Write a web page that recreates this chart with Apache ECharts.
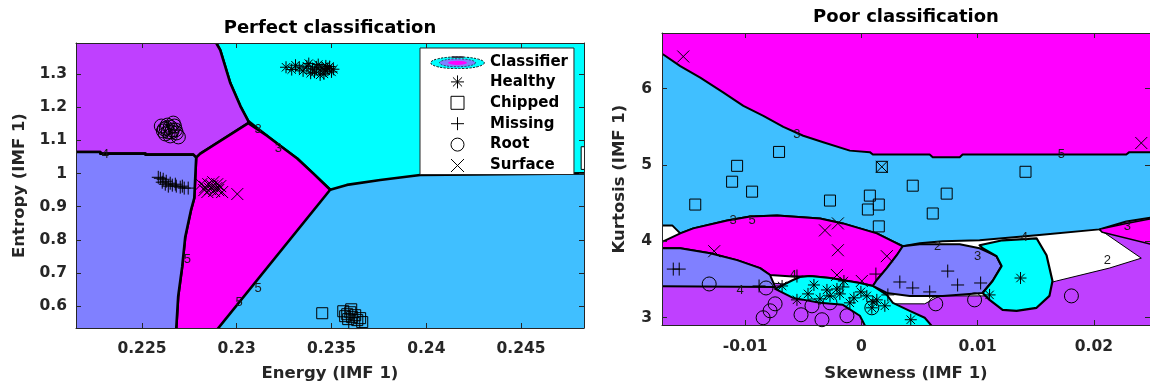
<!DOCTYPE html>
<html><head><meta charset="utf-8">
<script src="https://cdn.jsdelivr.net/npm/echarts@6/dist/echarts.min.js"></script>
<style>html,body{margin:0;padding:0;background:#fff}#c{width:1150px;height:387px}</style>
</head><body><div id="c"></div>
<script>
// ================= DATA =================
const leftXTicks = [0.225, 0.23, 0.235, 0.24, 0.245];
const leftXTickLabels = ['0.225', '0.23', '0.235', '0.24', '0.245'];
const leftYTicks = [0.6, 0.7, 0.8, 0.9, 1, 1.1, 1.2, 1.3];
const leftYTickLabels = ['0.6', '0.7', '0.8', '0.9', '1', '1.1', '1.2', '1.3'];
const rightXTicks = [-0.01, 0, 0.01, 0.02];
const rightXTickLabels = ['-0.01', '0', '0.01', '0.02'];
const rightYTicks = [3, 4, 5, 6];
const rightYTickLabels = ['3', '4', '5', '6'];
const legendNames = ['Classifier', 'Healthy', 'Chipped', 'Missing', 'Root', 'Surface'];
const leftTitle = 'Perfect classification';
const rightTitle = 'Poor classification';
const leftXName = 'Energy (IMF 1)';
const leftYName = 'Entropy (IMF 1)';
const rightXName = 'Skewness (IMF 1)';
const rightYName = 'Kurtosis (IMF 1)';

// ---- Left panel samples: [Energy, Entropy]
const leftHealthy = [[0.2326,1.320],[0.2329,1.313],[0.2331,1.326],[0.2333,1.318],[0.2335,1.309],[0.2337,1.323],[0.2338,1.331],[0.2340,1.315],[0.2341,1.305],[0.2342,1.321],[0.2343,1.328],[0.2344,1.312],[0.2345,1.318],[0.2346,1.300],[0.2347,1.324],[0.2347,1.309],[0.2348,1.316],[0.2349,1.322],[0.2350,1.306],[0.2351,1.314],[0.2344,1.297],[0.2339,1.302]];
const leftChipped = [[0.23451,0.5792],[0.23562,0.5851],[0.23583,0.5762],[0.23599,0.5821],[0.23609,0.5673],[0.23625,0.5732],[0.23636,0.5584],[0.23651,0.5643],[0.23588,0.5614],[0.23620,0.5495],[0.23572,0.5703],[0.23662,0.5525],[0.23604,0.5910]];
const leftMissing = [[0.22586,0.9886],[0.22597,0.9856],[0.22612,0.9827],[0.22607,0.9738],[0.22628,0.9767],[0.22623,0.9678],[0.22649,0.9708],[0.22639,0.9619],[0.22660,0.9649],[0.22676,0.9678],[0.22681,0.9619],[0.22702,0.9589],[0.22713,0.9619],[0.22723,0.9560],[0.22744,0.9560]];
const leftRoot = [[0.22602,1.1429],[0.22618,1.1340],[0.22634,1.1458],[0.22649,1.1399],[0.22660,1.1310],[0.22639,1.1250],[0.22623,1.1191],[0.22671,1.1429],[0.22681,1.1221],[0.22692,1.1102],[0.22649,1.1132],[0.22613,1.1280],[0.22665,1.1518],[0.22628,1.1369],[0.22655,1.1250],[0.22676,1.1310]];
const leftSurface = [[0.22813,0.9678],[0.22834,0.9589],[0.22850,0.9678],[0.22860,0.9530],[0.22871,0.9619],[0.22881,0.9471],[0.22892,0.9560],[0.22902,0.9500],[0.22876,0.9738],[0.22845,0.9441],[0.22913,0.9619],[0.22923,0.9441],[0.23003,0.9382],[0.22829,0.9500],[0.22897,0.9678]];

// ---- Right panel samples: [Skewness, Kurtosis]
const rightHealthy = [[-0.00682,3.416],[-0.00554,3.234],[-0.00459,3.312],[-0.00408,3.429],[-0.00356,3.247],[-0.00296,3.364],[-0.00210,3.377],[-0.00150,3.481],[-0.00099,3.195],[-0.00064,3.260],[-0.00004,3.338],[0.00047,3.286],[0.00090,3.130],[0.00133,3.234],[0.00202,3.156],[0.00099,3.208],[0.00425,2.974],[0.01103,3.299],[0.01369,3.520],[-0.00185,3.312],[-0.00270,3.286]];
const rightChipped = [[-0.00708,5.171],[-0.01069,4.989],[-0.01112,4.781],[-0.00940,4.651],[-0.01429,4.482],[-0.00270,4.534],[0.00073,4.599],[0.00150,4.482],[0.00056,4.417],[0.00614,4.365],[0.00150,4.196],[0.00734,4.625],[0.00442,4.729],[0.00176,4.976],[0.01412,4.911]];
const rightMissing = [[-0.01618,3.637],[-0.01567,3.637],[-0.00880,3.416],[-0.00554,3.546],[-0.00159,3.403],[0.00125,3.572],[0.00331,3.468],[0.00442,3.390],[0.00588,3.338],[0.00743,3.611],[0.00828,3.429],[0.01026,3.455],[0.00228,3.299]];
const rightRoot = [[-0.01309,3.442],[-0.00820,3.390],[-0.00742,3.182],[-0.00785,3.091],[-0.00845,3.000],[-0.00519,3.039],[-0.00425,3.156],[-0.00339,2.974],[-0.00270,3.195],[0.00090,3.130],[0.00640,3.182],[0.00974,3.234],[0.01807,3.286],[-0.00124,3.026]];
const rightSurface = [[-0.01532,6.420],[0.02408,5.288],[0.00176,4.976],[-0.01266,3.871],[-0.00313,4.144],[-0.00202,4.235],[-0.00202,3.884],[0.00219,3.806],[-0.00210,3.559],[0.00004,3.481]];

// ---- Contour level labels printed on the class boundaries: [x, y, text]
const leftContourLabels = [[0.22307,1.0568,'4'],[0.23113,1.1340,'3'],[0.23219,1.0747,'3'],[0.22739,0.7423,'5'],[0.23013,0.6118,'5'],[0.23113,0.6533,'5']];
const rightContourLabels = [[-0.00554,5.405,'3'],[0.01721,5.132,'5'],[-0.01103,4.274,'3'],[-0.00940,4.274,'5'],[-0.01043,3.364,'4'],[-0.00588,3.559,'4'],[0.00657,3.936,'2'],[0.01000,3.806,'3'],[0.01403,4.053,'4'],[0.02116,3.754,'2'],[0.02288,4.196,'3']];

// ---- Classifier decision regions (vertices in data units)
const leftLightBlueRegion = [[0.2210,0.50],[0.2490,0.50],[0.2490,1.42],[0.2210,1.42]];
const leftCyanRegion = [[0.2288,1.42],[0.2490,1.42],[0.2490,1.0005],[0.24827,1.0005],[0.23968,0.9954],[0.23757,0.9806],[0.23581,0.9657],[0.23493,0.9509],[0.23403,1.0005],[0.23319,1.0450],[0.23229,1.0835],[0.23161,1.1132],[0.23061,1.1577],[0.23019,1.2031],[0.22966,1.2725],[0.22913,1.3713],[0.22892,1.393]];
const leftPurpleRegion = [[0.2210,1.42],[0.2288,1.42],[0.22892,1.393],[0.22913,1.3713],[0.22966,1.2725],[0.23019,1.2031],[0.23061,1.1577],[0.23061,1.1518],[0.22876,1.0844],[0.22808,1.0598],[0.22786,1.0479],[0.22771,1.0568],[0.22518,1.0568],[0.22518,1.0598],[0.22280,1.0598],[0.22280,1.0649],[0.2210,1.0649]];
const leftMagentaRegion = [[0.22786,1.0479],[0.22808,1.0598],[0.22876,1.0844],[0.23061,1.1518],[0.23161,1.1132],[0.23229,1.0835],[0.23319,1.0450],[0.23403,1.0005],[0.23493,0.9509],[0.22854,0.50],[0.22673,0.50],[0.22681,0.5347],[0.22691,0.6296],[0.22712,0.7186],[0.22728,0.8076],[0.22739,0.8373],[0.22759,0.8907],[0.22776,0.9263]];
const leftVioletRegion = [[0.2210,1.0649],[0.22280,1.0649],[0.22280,1.0598],[0.22518,1.0598],[0.22518,1.0568],[0.22771,1.0568],[0.22786,1.0479],[0.22776,0.9263],[0.22759,0.8907],[0.22739,0.8373],[0.22728,0.8076],[0.22712,0.7186],[0.22691,0.6296],[0.22681,0.5347],[0.22673,0.50],[0.2210,0.50]];
const leftWhiteRegion = [[0.24817,1.0806],[0.2490,1.0806],[0.2490,1.0123],[0.24817,1.0123]];

const rightPurpleRegion = [[-0.018,2.85],[0.0256,2.85],[0.0256,6.8],[-0.018,6.8]];
const rightWhiteRegion = [[-0.018,4.300],[0.0200,4.300],[0.02073,4.131],[0.02408,3.780],[0.02133,3.650],[0.01678,3.481],[0.01189,3.286],[0.00674,3.286],[0.00545,3.182],[0.00271,3.182],[0.00219,3.260],[-0.00013,3.364],[-0.00742,3.450],[-0.018,3.450]];
const rightLightBlueRegion = [[-0.018,6.8],[0.0256,6.8],[0.0256,4.326],[0.02279,4.261],[0.02047,4.157],[0.01507,4.079],[0.01017,4.014],[0.00700,4.001],[0.00502,3.975],[0.00356,3.936],[0.00271,4.001],[0.00133,4.105],[-0.00159,4.235],[-0.00356,4.300],[-0.00725,4.339],[-0.00957,4.326],[-0.01154,4.274],[-0.01446,4.170],[-0.01558,4.105],[-0.01627,4.209],[-0.018,4.209]];
const rightMagentaTopRegion = [[-0.018,6.8],[0.0256,6.8],[0.0256,5.168],[0.02305,5.168],[0.02279,5.136],[0.00871,5.136],[0.00846,5.102],[0.00614,5.102],[0.00588,5.136],[0.00099,5.136],[0.00073,5.168],[-0.00099,5.188],[-0.00328,5.297],[-0.00500,5.383],[-0.00671,5.500],[-0.00843,5.643],[-0.01015,5.773],[-0.01186,5.948],[-0.01386,6.143],[-0.01558,6.294],[-0.01704,6.446],[-0.018,6.47]];
const rightMagentaMidRegion = [[-0.018,3.975],[-0.01704,4.001],[-0.01558,4.105],[-0.01446,4.170],[-0.01154,4.274],[-0.00957,4.326],[-0.00725,4.339],[-0.00356,4.300],[-0.00159,4.235],[0.00133,4.105],[0.00271,4.001],[0.00356,3.936],[0.00305,3.819],[0.00219,3.650],[0.00133,3.494],[0.00099,3.416],[-0.00013,3.455],[-0.00270,3.520],[-0.00442,3.546],[-0.00528,3.533],[-0.00785,3.559],[-0.00871,3.650],[-0.01069,3.754],[-0.01300,3.845],[-0.01558,3.910],[-0.018,3.910]];
const rightVioletLeftRegion = [[-0.018,3.910],[-0.01558,3.910],[-0.01300,3.845],[-0.01069,3.754],[-0.00871,3.650],[-0.00785,3.559],[-0.00742,3.403],[-0.018,3.412]];
const rightCyanLeftRegion = [[-0.00742,3.377],[-0.00588,3.494],[-0.00528,3.533],[-0.00442,3.546],[-0.00270,3.520],[-0.00013,3.455],[0.00099,3.416],[0.00219,3.299],[0.00271,3.195],[0.00416,3.091],[0.00545,3.000],[0.00630,2.85],[0.00047,2.85],[-0.00013,3.026],[-0.00159,3.169],[-0.00356,3.195],[-0.00588,3.260]];
const rightVioletRightRegion = [[0.00099,3.416],[0.00133,3.494],[0.00219,3.650],[0.00305,3.819],[0.00356,3.936],[0.00502,3.962],[0.00846,3.962],[0.01017,3.910],[0.01163,3.806],[0.01206,3.676],[0.01129,3.481],[0.01043,3.325],[0.00700,3.286],[0.00416,3.286],[0.00219,3.325]];
const rightCyanRightRegion = [[0.01017,3.949],[0.01215,4.014],[0.01507,4.040],[0.01593,3.819],[0.01644,3.481],[0.01618,3.286],[0.01507,3.130],[0.01335,3.091],[0.01215,3.104],[0.01103,3.234],[0.01043,3.325],[0.01129,3.481],[0.01206,3.676],[0.01163,3.806],[0.01043,3.910]];
const rightMagentaEdgeRegion = [[0.02047,4.157],[0.02279,4.235],[0.0256,4.313],[0.0256,3.936],[0.02073,4.118]];

// ================= STYLE =================
const COL = {lightBlue:'#40BFFF', cyan:'#00FFFF', magenta:'#FF00FF', violet:'#8080FF', purple:'#BF40FF', white:'#FFFFFF'};
const FONT = 'DejaVu Sans';
const AX = '#262626';

const leftRegions = [
  {pts: leftLightBlueRegion, fill: COL.lightBlue, lw: 0},
  {pts: leftCyanRegion, fill: COL.cyan, lw: 2.6},
  {pts: leftPurpleRegion, fill: COL.purple, lw: 2.6},
  {pts: leftMagentaRegion, fill: COL.magenta, lw: 2.6},
  {pts: leftVioletRegion, fill: COL.violet, lw: 2.6},
  {pts: leftWhiteRegion, fill: COL.white, lw: 1}
];
const rightRegions = [
  {pts: rightPurpleRegion, fill: COL.purple, lw: 0},
  {pts: rightWhiteRegion, fill: COL.white, lw: 1},
  {pts: rightLightBlueRegion, fill: COL.lightBlue, lw: 2},
  {pts: rightMagentaTopRegion, fill: COL.magenta, lw: 2},
  {pts: rightMagentaMidRegion, fill: COL.magenta, lw: 2},
  {pts: rightVioletLeftRegion, fill: COL.violet, lw: 2},
  {pts: rightCyanLeftRegion, fill: COL.cyan, lw: 2},
  {pts: rightVioletRightRegion, fill: COL.violet, lw: 2},
  {pts: rightCyanRightRegion, fill: COL.cyan, lw: 2.2},
  {pts: rightMagentaEdgeRegion, fill: COL.magenta, lw: 1.5}
];

const MARK = {
  Healthy: {symbol: 'path://M6 0L6 12M0 6L12 6M1.8 1.8L10.2 10.2M1.8 10.2L10.2 1.8', size: 12},
  Chipped: {symbol: 'path://M0 0L10 0L10 10L0 10Z', size: 11},
  Missing: {symbol: 'path://M6 0L6 12M0 6L12 6', size: 13},
  Root: {symbol: 'circle', size: 14},
  Surface: {symbol: 'path://M0 0L12 12M0 12L12 0', size: 12}
};

function regionSeries(regions, xi, yi) {
  return {
    type: 'custom', name: 'Classifier', xAxisIndex: xi, yAxisIndex: yi, clip: true, silent: true, z: 1,
    data: regions.map((r, i) => [i]),
    renderItem: function (params, api) {
      const r = regions[api.value(0)];
      return {type: 'polygon', shape: {points: r.pts.map(p => api.coord(p))},
        style: {fill: r.fill, stroke: r.lw ? '#000' : null, lineWidth: r.lw, lineJoin: 'round'}};
    }
  };
}
function labelSeries(labels, xi, yi) {
  return {
    type: 'scatter', name: 'contour levels', xAxisIndex: xi, yAxisIndex: yi, silent: true, z: 4,
    symbol: 'circle', symbolSize: 1, clip: true,
    itemStyle: {color: 'rgba(0,0,0,0)', opacity: 1},
    data: labels.map(l => ({value: [l[0], l[1]], name: l[2]})),
    label: {show: true, position: 'inside', formatter: '{b}', fontFamily: 'Liberation Sans', fontSize: 13, color: '#1a1a1a'},
    emphasis: {disabled: true}
  };
}
function scatterSeries(name, data, xi, yi) {
  const m = MARK[name];
  return {type: 'scatter', name: name, data: data, xAxisIndex: xi, yAxisIndex: yi,
    symbol: m.symbol, symbolSize: m.size, clip: true, silent: true, z: 5,
    itemStyle: {color: 'none', borderColor: '#000', borderWidth: 1, opacity: 1},
    emphasis: {disabled: true}};
}
function fmt(ticks, labels) {
  return function (v) { const i = ticks.findIndex(t => Math.abs(t - v) < 1e-9); return i >= 0 ? labels[i] : ''; };
}
function axis(o) {
  const a = {
    type: 'value', gridIndex: o.grid, position: o.pos, min: o.min, max: o.max, z: 10,
    axisLine: {show: true, onZero: false, lineStyle: {color: AX, width: 1}},
    axisTick: {show: true, inside: true, length: 5, customValues: o.ticks, lineStyle: {color: AX, width: 1}},
    splitLine: {show: false},
    axisLabel: {show: false}
  };
  if (o.labels) {
    a.axisLabel = {show: true, customValues: o.ticks, formatter: fmt(o.ticks, o.labels), margin: o.margin,
      fontFamily: FONT, fontWeight: 'bold', fontSize: 15.5, color: AX};
  }
  if (o.name) {
    Object.assign(a, {name: o.name, nameLocation: 'middle', nameGap: o.nameGap,
      nameTextStyle: {fontFamily: FONT, fontWeight: 'bold', fontSize: 16.5, color: AX}});
  }
  return a;
}

const L = {xmin: 0.22152, xmax: 0.24832, ymin: 0.5347, ymax: 1.393};
const R = {xmin: -0.01715, xmax: 0.02483, ymin: 2.905, ymax: 6.728};

const iconSvg = '<svg xmlns="http://www.w3.org/2000/svg" width="55" height="13" viewBox="0 0 55 13">' +
  '<ellipse cx="27.5" cy="6.8" rx="26.8" ry="5.9" fill="#00FFFF" stroke="#000" stroke-width="0.9" stroke-dasharray="2.2,1.4"/>' +
  '<ellipse cx="27.5" cy="6.8" rx="18" ry="4" fill="#8080FF" stroke="#000" stroke-width="0.6" stroke-dasharray="2,1.4"/>' +
  '<ellipse cx="27.5" cy="6.8" rx="9.5" ry="2.1" fill="#FF00FF"/>' +
  '<rect x="21.5" y="0.2" width="12" height="1.8" fill="#334"/></svg>';
const classifierIcon = 'image://data:image/svg+xml;charset=utf-8,' + encodeURIComponent(iconSvg);

const option = {
  animation: false,
  backgroundColor: '#fff',
  title: [
    {text: leftTitle, left: 330, top: 19.5, textAlign: 'center', padding: 0,
      textStyle: {fontFamily: FONT, fontWeight: 'bold', fontSize: 18, color: '#000'}},
    {text: rightTitle, left: 906, top: 8.5, textAlign: 'center', padding: 0,
      textStyle: {fontFamily: FONT, fontWeight: 'bold', fontSize: 18, color: '#000'}}
  ],
  legend: {
    left: 420, top: 48, orient: 'vertical', selectedMode: false,
    data: legendNames.map(n => n === 'Classifier' ? {name: n, icon: classifierIcon} : n),
    itemWidth: 55, itemHeight: 13, itemGap: 2.9, padding: [7, 6, 0, 10],
    backgroundColor: '#fff', borderColor: AX, borderWidth: 1, borderRadius: 0,
    itemStyle: {borderWidth: 1},
    textStyle: {fontFamily: FONT, fontWeight: 'bold', fontSize: 15, color: '#000'},
    z: 20
  },
  grid: [
    {left: 76, top: 43, width: 508, height: 289, containLabel: false},
    {left: 662, top: 33, width: 489, height: 294, containLabel: false}
  ],
  xAxis: [
    axis({grid: 0, pos: 'bottom', min: L.xmin, max: L.xmax, ticks: leftXTicks, labels: leftXTickLabels, margin: 12.5, name: leftXName, nameGap: 37}),
    axis({grid: 0, pos: 'top', min: L.xmin, max: L.xmax, ticks: leftXTicks}),
    axis({grid: 1, pos: 'bottom', min: R.xmin, max: R.xmax, ticks: rightXTicks, labels: rightXTickLabels, margin: 14, name: rightXName, nameGap: 40}),
    axis({grid: 1, pos: 'top', min: R.xmin, max: R.xmax, ticks: rightXTicks})
  ],
  yAxis: [
    axis({grid: 0, pos: 'left', min: L.ymin, max: L.ymax, ticks: leftYTicks, labels: leftYTickLabels, margin: 9, name: leftYName, nameGap: 48}),
    axis({grid: 0, pos: 'right', min: L.ymin, max: L.ymax, ticks: leftYTicks}),
    axis({grid: 1, pos: 'left', min: R.ymin, max: R.ymax, ticks: rightYTicks, labels: rightYTickLabels, margin: 10, name: rightYName, nameGap: 34}),
    axis({grid: 1, pos: 'right', min: R.ymin, max: R.ymax, ticks: rightYTicks})
  ],
  series: [
    regionSeries(leftRegions, 0, 0),
    regionSeries(rightRegions, 2, 2),
    labelSeries(leftContourLabels, 0, 0),
    labelSeries(rightContourLabels, 2, 2),
    scatterSeries('Healthy', leftHealthy, 0, 0),
    scatterSeries('Chipped', leftChipped, 0, 0),
    scatterSeries('Missing', leftMissing, 0, 0),
    scatterSeries('Root', leftRoot, 0, 0),
    scatterSeries('Surface', leftSurface, 0, 0),
    scatterSeries('Healthy', rightHealthy, 2, 2),
    scatterSeries('Chipped', rightChipped, 2, 2),
    scatterSeries('Missing', rightMissing, 2, 2),
    scatterSeries('Root', rightRoot, 2, 2),
    scatterSeries('Surface', rightSurface, 2, 2)
  ]
};
const chart = echarts.init(document.getElementById('c'), null, {renderer: 'canvas'});
chart.setOption(option);
</script></body></html>
